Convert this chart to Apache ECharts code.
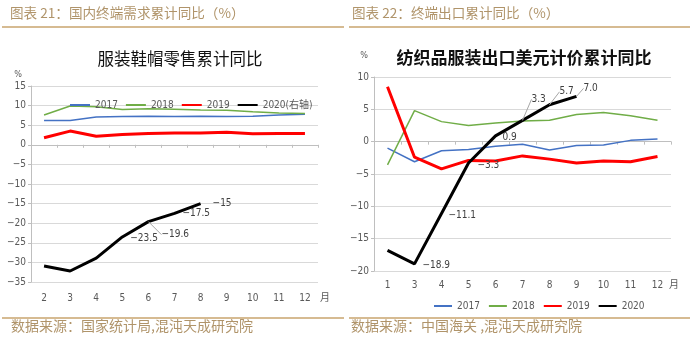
<!DOCTYPE html>
<html>
<head>
<meta charset="utf-8">
<script src="https://cdn.jsdelivr.net/npm/echarts@6/dist/echarts.min.js"></script>
<style>
  html, body { margin: 0; padding: 0; background: #fff; }
  #c { width: 692px; height: 342px; }
</style>
</head>
<body>
<div id="c"></div>
<script>
// Left panel: apparel, footwear & hats retail sales, cumulative YoY (%)
const retailMonths = ['2', '3', '4', '5', '6', '7', '8', '9', '10', '11', '12'];
const retail2017 = [6.2, 6.2, 7.1, 7.2, 7.3, 7.2, 7.3, 7.2, 7.3, 7.6, 7.8];
const retail2018 = [7.6, 9.9, 9.7, 9.0, 9.2, 9.1, 8.9, 8.8, 8.4, 8.1, 8.0];
const retail2019 = [1.8, 3.5, 2.2, 2.6, 2.9, 3.0, 3.0, 3.2, 2.8, 2.9, 2.9];
const retail2020 = [-30.9, -32.2, -28.9, -23.5, -19.6, -17.5, -15];
const retailLegend = ['2017', '2018', '2019', '2020(右轴)'];

// Right panel: textile & garment exports in USD, cumulative YoY (%)
const exportMonths = ['1', '3', '4', '5', '6', '7', '8', '9', '10', '11', '12'];
const export2017 = [-1.0, -3.1, -1.4, -1.2, -0.7, -0.4, -1.3, -0.6, -0.5, 0.2, 0.4];
const export2018 = [-3.6, 4.8, 3.1, 2.5, 2.9, 3.2, 3.3, 4.2, 4.5, 4.0, 3.3];
const export2019 = [8.5, -2.4, -4.2, -2.9, -3.0, -2.2, -2.7, -3.3, -3.0, -3.1, -2.3];
const export2020 = [-16.8, -18.9, -11.1, -3.3, 0.9, 3.3, 5.7, 7.0];
const exportLegend = ['2017', '2018', '2019', '2020'];

const NUM_FONT = "'Liberation Sans Narrow','DejaVu Sans Condensed','Noto Sans CJK SC',sans-serif";
const CJK_FONT = "'Noto Sans CJK SC',sans-serif";
const GOLD = '#B0946A';
const RULE = '#C9A56E';
const GRID_GRAY = '#D9D9D9';
const AXIS_GRAY = '#BFBFBF';
const TEXT_GRAY = '#595959';

const COLORS = { y2017: '#4472C4', y2018: '#70AD47', y2019: '#FF0000', y2020: '#000000' };

const minusSign = v => String(v).replace('-', '\u2212');

// Label placement for the annotated 2020 points: index -> [dx, dy, guide line]
const retailLabelShift = { 3: [3, 1, false], 4: [8, 13, true], 5: [3, 0, false], 6: [7, 0, false] };
const exportLabelShift = {
  1: [3, 2, false], 2: [2, 2, false], 3: [4, 2, false], 4: [2, 2, false],
  5: [4, -21, true], 6: [5, -13, true], 7: [2, -8, true]
};

function annotate(values, shifts, fmt) {
  return values.map((v, i) => {
    const s = shifts[i];
    if (!s) return v;
    return {
      value: v,
      label: { show: true, formatter: () => minusSign(fmt(v)) },
      labelLine: { show: s[2] }
    };
  });
}

function lineSeries(name, data, color, width, axisIdx, extra) {
  return Object.assign({
    name: name,
    type: 'line',
    data: data,
    xAxisIndex: axisIdx * 2,
    yAxisIndex: axisIdx,
    symbol: 'circle',
    symbolSize: 0,
    showSymbol: true,
    lineStyle: { color: color, width: width },
    itemStyle: { color: color },
    emphasis: { disabled: true },
    silent: true,
    label: { show: false }
  }, extra || {});
}

function blackSeries(name, values, shifts, fmt, axisIdx) {
  return lineSeries(name, annotate(values, shifts, fmt), COLORS.y2020, 3, axisIdx, {
    z: 5,
    label: {
      show: false,
      position: 'right',
      distance: 5,
      fontFamily: NUM_FONT,
      fontSize: 10,
      color: '#404040'
    },
    labelLine: {
      show: false,
      lineStyle: { color: '#A6A6A6', width: 1 }
    },
    labelLayout: function (p) {
      const s = shifts[p.dataIndex];
      return s ? { dx: s[0], dy: s[1] } : {};
    }
  });
}

function categoryAxes(gridIndex, cats, labelMargin, namePad, nameGap) {
  return [
    {
      gridIndex: gridIndex,
      type: 'category',
      data: cats,
      position: 'bottom',
      boundaryGap: true,
      axisLine: { show: false, onZero: false },
      axisTick: { show: false },
      axisLabel: {
        interval: 0, margin: labelMargin, color: TEXT_GRAY,
        fontFamily: NUM_FONT, fontSize: 10
      },
      splitLine: { show: false },
      name: '月',
      nameLocation: 'end',
      nameGap: nameGap,
      nameTextStyle: {
        color: TEXT_GRAY, fontFamily: CJK_FONT, fontSize: 10,
        verticalAlign: 'top', padding: [namePad, 0, 0, 0]
      }
    },
    {
      // zero line with boundary ticks
      gridIndex: gridIndex,
      type: 'category',
      data: cats,
      position: 'top',
      boundaryGap: true,
      axisLine: { show: true, onZero: true, lineStyle: { color: AXIS_GRAY, width: 1 } },
      axisTick: { show: true, inside: true, length: 3, lineStyle: { color: AXIS_GRAY } },
      axisLabel: { show: false },
      splitLine: { show: false }
    }
  ];
}

function valueAxis(gridIndex, min, max, namePadRight) {
  return {
    gridIndex: gridIndex,
    type: 'value',
    min: min,
    max: max,
    interval: 5,
    axisLine: { show: true, lineStyle: { color: AXIS_GRAY } },
    axisTick: { show: true, length: 3, lineStyle: { color: AXIS_GRAY } },
    axisLabel: {
      margin: 5, color: TEXT_GRAY, fontFamily: NUM_FONT, fontSize: 10,
      formatter: v => minusSign(v)
    },
    splitLine: { show: true, lineStyle: { color: GRID_GRAY, width: 1 } },
    name: '%',
    nameLocation: 'end',
    nameTextStyle: {
      color: TEXT_GRAY, fontFamily: NUM_FONT, fontSize: 9,
      align: 'right', padding: [0, namePadRight, 0, 0]
    }
  };
}

const legendText = { color: TEXT_GRAY, fontFamily: NUM_FONT, fontSize: 10 };

const option = {
  backgroundColor: '#ffffff',
  animation: false,
  textStyle: { fontFamily: NUM_FONT },
  title: [
    {
      text: '服装鞋帽零售累计同比',
      left: 175, top: 45, textAlign: 'center',
      textStyle: { fontFamily: CJK_FONT, fontSize: 16.5, fontWeight: 'normal', color: '#111' }
    },
    {
      text: '纺织品服装出口美元计价累计同比',
      left: 519, top: 44, textAlign: 'center',
      textStyle: { fontFamily: CJK_FONT, fontSize: 17, fontWeight: 'bold', color: '#111' }
    }
  ],
  legend: [
    {
      data: retailLegend,
      left: 64, top: 95,
      itemWidth: 20, itemHeight: 10, itemGap: 7,
      itemStyle: { opacity: 0 },
      textStyle: legendText,
      selectedMode: false
    },
    {
      data: exportLegend,
      left: 428, top: 296,
      itemWidth: 18, itemHeight: 10, itemGap: 8,
      itemStyle: { opacity: 0 },
      textStyle: legendText,
      selectedMode: false
    }
  ],
  grid: [
    { left: 31, top: 86, width: 287, height: 196 },
    { left: 374, top: 77, width: 297, height: 194 }
  ],
  xAxis: [
    ...categoryAxes(0, retailMonths, 11, 10, 2),
    ...categoryAxes(1, exportMonths, 9, 8, -3)
  ],
  yAxis: [
    Object.assign(valueAxis(0, -35, 15, 9), { nameGap: 7 }),
    Object.assign(valueAxis(1, -20, 10, 6), { nameGap: 17 })
  ],
  series: [
    lineSeries('2017', retail2017, COLORS.y2017, 1.5, 0),
    lineSeries('2018', retail2018, COLORS.y2018, 1.5, 0),
    lineSeries('2019', retail2019, COLORS.y2019, 3, 0),
    blackSeries('2020(右轴)', retail2020, retailLabelShift, v => String(v), 0),

    lineSeries('2017', export2017, COLORS.y2017, 1.5, 1),
    lineSeries('2018', export2018, COLORS.y2018, 1.5, 1),
    lineSeries('2019', export2019, COLORS.y2019, 3, 1),
    blackSeries('2020', export2020, exportLabelShift, v => v.toFixed(1), 1)
  ],
  graphic: [
    {
      type: 'text', left: 10, top: 6,
      style: { text: '图表 21：国内终端需求累计同比（%）', fill: GOLD, font: "13.6px 'Noto Sans CJK SC'" }
    },
    {
      type: 'text', left: 352, top: 6,
      style: { text: '图表 22：终端出口累计同比（%）', fill: GOLD, font: "13.6px 'Noto Sans CJK SC'" }
    },
    { type: 'line', shape: { x1: 2, y1: 27, x2: 344, y2: 27 }, style: { stroke: RULE, lineWidth: 1.5 } },
    { type: 'line', shape: { x1: 349, y1: 27, x2: 690, y2: 27 }, style: { stroke: RULE, lineWidth: 1.5 } },
    { type: 'line', shape: { x1: 2, y1: 318, x2: 344, y2: 318 }, style: { stroke: RULE, lineWidth: 1.5 } },
    { type: 'line', shape: { x1: 349, y1: 318, x2: 690, y2: 318 }, style: { stroke: RULE, lineWidth: 1.5 } },
    {
      type: 'text', left: 11, top: 319,
      style: { text: '数据来源：国家统计局,混沌天成研究院', fill: GOLD, font: "14px 'Noto Sans CJK SC'" }
    },
    {
      type: 'text', left: 351, top: 319,
      style: { text: '数据来源：中国海关 ,混沌天成研究院', fill: GOLD, font: "14px 'Noto Sans CJK SC'" }
    }
  ]
};

const chart = echarts.init(document.getElementById('c'));
chart.setOption(option);
</script>
</body>
</html>
